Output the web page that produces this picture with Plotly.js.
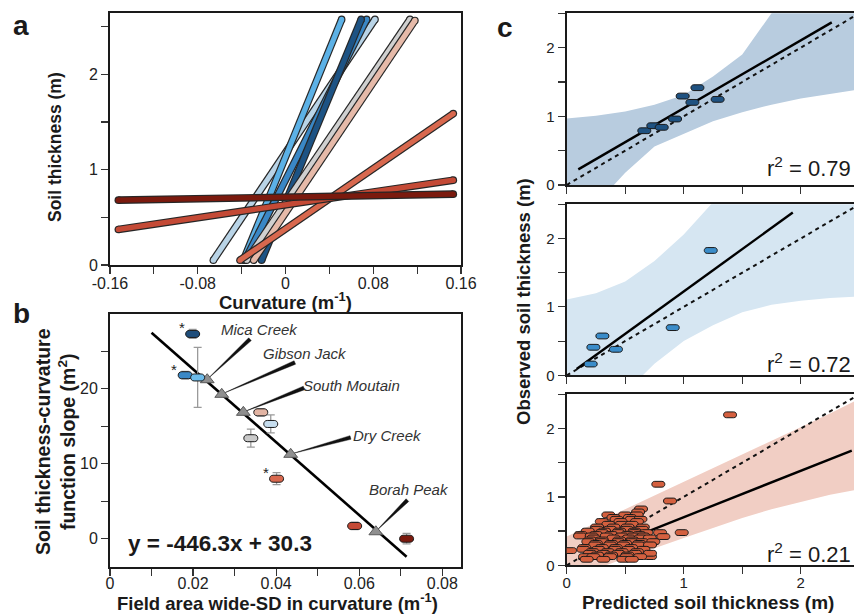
<!DOCTYPE html>
<html><head><meta charset="utf-8">
<script src="https://cdn.plot.ly/plotly-3.0.1.min.js"></script>
<style>html,body{margin:0;padding:0;background:#fff;}#chart{width:854px;height:614px;}</style>
</head><body><div id="chart"></div>
<script>
// ---------- Panel a: soil thickness vs curvature fits ----------
const aCurvStart = [-0.0658, -0.0384, -0.0370, -0.0218, -0.0354, -0.0290, -0.0415, -0.1524, -0.1524];
const aCurvEnd   = [ 0.0816,  0.0512,  0.0740,  0.0690,  0.1135,  0.1180,  0.1530,  0.1530,  0.1530];
const aThickStart = [0.05, 0.05, 0.05, 0.05, 0.05, 0.05, 0.05, 0.373, 0.68];
const aThickEnd   = [2.576, 2.576, 2.576, 2.576, 2.576, 2.565, 1.588, 0.89, 0.743];
const aColors = ['#b9d4e7', '#5cb1e6', '#3a87c5', '#1d5384', '#d0d0d0', '#e6baa9', '#d8684e', '#c44a36', '#7b1a0e'];
const aXTickVals = [-0.16, -0.12, -0.08, -0.04, 0, 0.04, 0.08, 0.12, 0.16];
const aXTickText = ['-0.16', '', '-0.08', '', '0', '', '0.08', '', '0.16'];
const aYTickVals = [0, 0.5, 1, 1.5, 2, 2.5];
const aYTickText = ['0', '', '1', '', '2', ''];

// ---------- Panel b: slope vs SD of curvature ----------
const bSD    = [0.0199, 0.0181, 0.0211, 0.0363, 0.0387, 0.0339, 0.0401, 0.0589, 0.0714];
const bSlope = [27.3, 21.8, 21.5, 16.85, 15.3, 13.4, 8.0, 1.7, 0.0];
const bErr   = [0.6, 0.5, 4.0, 0.5, 1.2, 1.2, 0.8, 0.5, 0.7];
const bStar  = [true, true, false, false, false, false, true, false, false];
const bColors = ['#1f4e7b', '#3a88c6', '#6cbbea', '#e2b4a3', '#c6ddee', '#c9c9c9', '#d8684e', '#c44a36', '#7b1a0e'];
const bFitX = [0.0100, 0.0714];
const bFitY = [27.47, -2.40];
const bSiteNames = ['Mica Creek', 'Gibson Jack', 'South Moutain', 'Dry Creek', 'Borah Peak'];
const bSiteSD    = [0.0234, 0.0269, 0.0321, 0.0435, 0.0640];
const bSiteSlope = [21.2, 19.25, 16.85, 11.25, 0.93];
const bLabelX  = [0.0361, 0.0469, 0.0582, 0.0667, 0.0720];
const bLabelY  = [27.9, 24.7, 20.4, 13.8, 6.6];
const bLeaderX = [0.0337, 0.0445, 0.0467, 0.0579, 0.0716];
const bLeaderY = [26.6, 23.5, 20.1, 13.5, 5.15];
const bXTickVals = [0, 0.01, 0.02, 0.03, 0.04, 0.05, 0.06, 0.07, 0.08];
const bXTickText = ['0', '', '0.02', '', '0.04', '', '0.06', '', '0.08'];
const bYTickVals = [0, 5, 10, 15, 20, 25];
const bYTickText = ['0', '', '10', '', '20', ''];

// ---------- Panel c: observed vs predicted ----------
const cTopPred = [0.663, 0.740, 0.812, 0.926, 0.991, 1.074, 1.117, 1.290];
const cTopObs  = [0.790, 0.863, 0.840, 0.961, 1.295, 1.203, 1.417, 1.247];
const cMidPred = [0.205, 0.228, 0.305, 0.421, 0.906, 1.231];
const cMidObs  = [0.165, 0.410, 0.575, 0.380, 0.697, 1.825];
const cBotPred = [
  1.396, 0.783, 0.883, 0.983, 0.798, 0.826, 0.712, 0.028, 0.635, 0.610,
  0.356, 0.499, 0.598,
  0.400, 0.540,
  0.427, 0.556, 0.630,
  0.300, 0.460, 0.600,
  0.356, 0.470, 0.556,
  0.260, 0.400, 0.520, 0.650,
  0.256, 0.370, 0.513, 0.641,
  0.180, 0.320, 0.450, 0.580,
  0.300, 0.440, 0.580, 0.680,
  0.120, 0.250, 0.380, 0.520, 0.620,
  0.114, 0.214, 0.342, 0.470, 0.570, 0.655,
  0.230, 0.400, 0.530, 0.630, 0.710,
  0.200, 0.300, 0.450, 0.560,
  0.185, 0.299, 0.440, 0.556, 0.641, 0.740,
  0.250, 0.380, 0.500, 0.620,
  0.242, 0.370, 0.484, 0.612, 0.712,
  0.150, 0.300, 0.420, 0.550,
  0.142, 0.270, 0.413, 0.527, 0.655,
  0.220, 0.350, 0.470, 0.600,
  0.199, 0.313, 0.440, 0.584, 0.712,
  0.260, 0.380, 0.520,
  0.157, 0.228, 0.370, 0.513, 0.627,
  0.171, 0.313, 0.484, 0.556];
const cBotObs = [
  2.200, 1.185, 0.940, 0.478, 0.478, 0.420, 0.127, 0.215, 0.824, 0.780,
  0.737, 0.737, 0.737,
  0.700, 0.700,
  0.673, 0.673, 0.673,
  0.640, 0.640, 0.640,
  0.600, 0.600, 0.600,
  0.560, 0.560, 0.560, 0.560,
  0.527, 0.527, 0.527, 0.527,
  0.500, 0.500, 0.500, 0.500,
  0.478, 0.478, 0.478, 0.478,
  0.450, 0.450, 0.450, 0.450, 0.450,
  0.429, 0.429, 0.429, 0.429, 0.429, 0.429,
  0.400, 0.400, 0.400, 0.400, 0.400,
  0.370, 0.370, 0.370, 0.370,
  0.346, 0.346, 0.346, 0.346, 0.346, 0.346,
  0.320, 0.320, 0.320, 0.320,
  0.298, 0.298, 0.298, 0.298, 0.298,
  0.260, 0.260, 0.260, 0.260,
  0.234, 0.234, 0.234, 0.234, 0.234,
  0.200, 0.200, 0.200, 0.200,
  0.176, 0.176, 0.176, 0.176, 0.176,
  0.150, 0.150, 0.150,
  0.127, 0.127, 0.127, 0.127, 0.127,
  0.088, 0.088, 0.088, 0.088];
const cBandX     = [0, 0.25, 0.5, 0.75, 1.0, 1.25, 1.5, 1.75, 2.0, 2.25, 2.46];
const cTopUpper  = [0.97, 1.01, 1.07, 1.17, 1.31, 1.58, 1.90, 2.50, 3.00, 3.40, 3.80];
const cTopLower  = [-0.75, -0.30, 0.18, 0.56, 0.75, 0.93, 1.06, 1.17, 1.26, 1.33, 1.38];
const cMidUpper  = [1.11, 1.20, 1.37, 1.67, 2.06, 2.55, 3.00, 3.45, 3.90, 4.35, 4.75];
const cMidLower  = [-1.10, -0.70, -0.25, 0.17, 0.50, 0.73, 0.92, 1.03, 1.09, 1.13, 1.15];
const cBotUpper  = [0.42, 0.62, 0.82, 1.02, 1.22, 1.42, 1.62, 1.82, 2.02, 2.22, 2.40];
const cBotLower  = [-0.20, -0.06, 0.10, 0.25, 0.40, 0.55, 0.69, 0.82, 0.93, 1.03, 1.10];
const cTopFitX = [0.099, 2.265], cTopFitY = [0.228, 2.368];
const cMidFitX = [0.085, 1.932], cMidFitY = [0.092, 2.380];
const cBotFitX = [0.100, 2.436], cBotFitY = [0.092, 1.678];
const cOneToOne = [0, 2.46];
const cR2 = ['0.79', '0.72', '0.21'];
const cTickVals = [0, 0.5, 1, 1.5, 2, 2.5];
const cTickText = ['0', '', '1', '', '2', ''];

// ---------- layout geometry ----------
const W = 854, H = 614;
const FONT = 'Arial, "Liberation Sans", Helvetica, sans-serif';
const domAX = [110 / W, 461 / W];
const domAY = [1 - 265 / H, 1 - 13.3 / H];
const domBY = [1 - 566.7 / H, 1 - 314 / H];
const domCX = [566.7 / W, 1];
const domC1Y = [1 - 185 / H, 1 - 13.3 / H];
const domC2Y = [1 - 375.3 / H, 1 - 204.3 / H];
const domC3Y = [1 - 565.3 / H, 1 - 394.3 / H];
const rangeAX = [-0.16, 0.16], rangeAY = [0, 2.64];
const rangeBX = [0, 0.0845], rangeBY = [-3.73, 29.96];
const rangeCX = [0, 2.455], rangeCY = [0, 2.5];

const traces = [];
const shapes = [];
const annotations = [];

// Panel a lines with outline and rounded caps
for (let i = 0; i < aColors.length; i++) {
  const xs = [aCurvStart[i], aCurvEnd[i]], ys = [aThickStart[i], aThickEnd[i]];
  traces.push({x: xs, y: ys, xaxis: 'x', yaxis: 'y', mode: 'lines+markers', hoverinfo: 'skip',
    line: {color: '#262626', width: 7.6}, marker: {color: '#262626', size: 7.6, line: {width: 0}}, cliponaxis: false});
  traces.push({x: xs, y: ys, xaxis: 'x', yaxis: 'y', mode: 'lines+markers', hoverinfo: 'skip',
    line: {color: aColors[i], width: 5.2}, marker: {color: aColors[i], size: 5.2, line: {width: 0}}, cliponaxis: false});
}

// pill helper
function pill(xref, yref, x, y, color, w, h) {
  const r = h / 2, hw = w / 2 - r, k = r * 1.333;
  const p = `M ${-hw},${-r} L ${hw},${-r} C ${hw + k},${-r} ${hw + k},${r} ${hw},${r} L ${-hw},${r} C ${-hw - k},${r} ${-hw - k},${-r} ${-hw},${-r} Z`;
  return {type: 'path', xref, yref, xsizemode: 'pixel', ysizemode: 'pixel', xanchor: x, yanchor: y,
    path: p, fillcolor: color, line: {color: '#1a1a1a', width: 1}, layer: 'above'};
}

// Panel b
traces.push({x: bFitX, y: bFitY, xaxis: 'x2', yaxis: 'y2', mode: 'lines', hoverinfo: 'skip',
  line: {color: '#000', width: 2.6}});
// leader wedges
const bPxX = (domAX[1] - domAX[0]) * W / (rangeBX[1] - rangeBX[0]);
const bPxY = (domBY[1] - domBY[0]) * H / (rangeBY[1] - rangeBY[0]);
for (let i = 0; i < bSiteNames.length; i++) {
  const lx = bLeaderX[i] * bPxX, ly = bLeaderY[i] * bPxY;
  const tx = bSiteSD[i] * bPxX, ty = bSiteSlope[i] * bPxY;
  const dx = tx - lx, dy = ty - ly, len = Math.hypot(dx, dy);
  const nx = -dy / len, ny = dx / len;
  const w1 = 1.9, w2 = 0.25;
  const pts = [[lx + nx * w1, ly + ny * w1], [tx + nx * w2, ty + ny * w2], [tx - nx * w2, ty - ny * w2], [lx - nx * w1, ly - ny * w1], [lx + nx * w1, ly + ny * w1]];
  traces.push({x: pts.map(p => p[0] / bPxX), y: pts.map(p => p[1] / bPxY), xaxis: 'x2', yaxis: 'y2',
    mode: 'lines', fill: 'toself', fillcolor: '#111', line: {color: '#111', width: 0.4}, hoverinfo: 'skip'});
  annotations.push({xref: 'x2', yref: 'y2', x: bLabelX[i], y: bLabelY[i], text: '<i>' + bSiteNames[i] + '</i>',
    showarrow: false, font: {family: FONT, size: 15, color: '#333'}, xanchor: 'center', yanchor: 'middle'});
}
traces.push({x: bSiteSD, y: bSiteSlope, xaxis: 'x2', yaxis: 'y2', mode: 'markers', hoverinfo: 'skip',
  marker: {symbol: 'triangle-up', size: 12, color: '#8f8f8f', line: {color: '#5a5a5a', width: 1}}});
traces.push({x: bSD, y: bSlope, xaxis: 'x2', yaxis: 'y2', mode: 'markers', hoverinfo: 'skip',
  marker: {size: 1, color: 'rgba(0,0,0,0)'},
  error_y: {type: 'data', array: bErr, visible: true, color: '#9a9a9a', thickness: 1.3, width: 4}});
for (let i = 0; i < bSD.length; i++) {
  shapes.push(pill('x2', 'y2', bSD[i], bSlope[i], bColors[i], 14, 7));
  if (bStar[i]) annotations.push({xref: 'x2', yref: 'y2', x: bSD[i], y: bSlope[i], text: '*', showarrow: false,
    xshift: -11, yshift: 6, font: {family: FONT, size: 15, color: '#222'}});
}

// Panel c
const cPanels = [
  {xa: 'x3', ya: 'y3', up: cTopUpper, lo: cTopLower, band: '#b8ccdf', fx: cTopFitX, fy: cTopFitY, px: cTopPred, py: cTopObs, col: '#1f5281'},
  {xa: 'x4', ya: 'y4', up: cMidUpper, lo: cMidLower, band: '#d6e6f2', fx: cMidFitX, fy: cMidFitY, px: cMidPred, py: cMidObs, col: '#3a8cc9'},
  {xa: 'x5', ya: 'y5', up: cBotUpper, lo: cBotLower, band: '#f1cec4', fx: cBotFitX, fy: cBotFitY, px: cBotPred, py: cBotObs, col: '#d4603f'}
];
cPanels.forEach(p => {
  traces.push({x: cBandX.concat(cBandX.slice().reverse()), y: p.up.concat(p.lo.slice().reverse()),
    xaxis: p.xa, yaxis: p.ya, mode: 'lines', fill: 'toself', fillcolor: p.band, line: {width: 0}, hoverinfo: 'skip'});
  traces.push({x: cOneToOne, y: cOneToOne, xaxis: p.xa, yaxis: p.ya, mode: 'lines', hoverinfo: 'skip',
    line: {color: '#111', width: 2, dash: '4px,4px'}});
  traces.push({x: p.fx, y: p.fy, xaxis: p.xa, yaxis: p.ya, mode: 'lines', hoverinfo: 'skip',
    line: {color: '#000', width: 2.4}});
  for (let i = 0; i < p.px.length; i++) shapes.push(pill(p.xa, p.ya, p.px[i], p.py[i], p.col, 13, 5.8));
});

// axes
function ax(extra) {
  return Object.assign({showline: true, linecolor: '#1a1a1a', linewidth: 2, ticks: 'outside', ticklen: 7,
    tickwidth: 1.2, tickcolor: '#333', showgrid: false, zeroline: false, fixedrange: true,
    tickfont: {family: FONT, size: 16, color: '#222'}}, extra);
}
const XSTAND = -4;
const layout = {
  width: W, height: H, margin: {l: 0, r: 0, t: 0, b: 0}, paper_bgcolor: '#fff', plot_bgcolor: '#fff',
  showlegend: false, font: {family: FONT},
  xaxis: ax({domain: domAX, range: rangeAX, anchor: 'y', mirror: true, tickmode: 'array', tickvals: aXTickVals, ticktext: aXTickText, ticklabelstandoff: XSTAND}),
  yaxis: ax({domain: domAY, range: rangeAY, anchor: 'x', mirror: true, tickmode: 'array', tickvals: aYTickVals, ticktext: aYTickText}),
  xaxis2: ax({domain: domAX, range: rangeBX, anchor: 'y2', mirror: true, tickmode: 'array', tickvals: bXTickVals, ticktext: bXTickText, ticklabelstandoff: -6}),
  yaxis2: ax({domain: domBY, range: rangeBY, anchor: 'x2', mirror: true, tickmode: 'array', tickvals: bYTickVals, ticktext: bYTickText}),
  xaxis3: ax({domain: domCX, range: rangeCX, anchor: 'y3', mirror: true, tickmode: 'array', tickvals: cTickVals, ticktext: cTickText, showticklabels: false}),
  yaxis3: ax({domain: domC1Y, range: rangeCY, anchor: 'x3', tickmode: 'array', tickvals: cTickVals, ticktext: cTickText, tickfont: {family: FONT, size: 15, color: '#222'}}),
  xaxis4: ax({domain: domCX, range: rangeCX, anchor: 'y4', mirror: true, tickmode: 'array', tickvals: cTickVals, ticktext: cTickText, showticklabels: false}),
  yaxis4: ax({domain: domC2Y, range: rangeCY, anchor: 'x4', tickmode: 'array', tickvals: cTickVals, ticktext: cTickText, tickfont: {family: FONT, size: 15, color: '#222'}}),
  xaxis5: ax({domain: domCX, range: rangeCX, anchor: 'y5', mirror: true, tickmode: 'array', tickvals: cTickVals, ticktext: cTickText, ticklabelstandoff: XSTAND, tickfont: {family: FONT, size: 15, color: '#222'}}),
  yaxis5: ax({domain: domC3Y, range: rangeCY, anchor: 'x5', tickmode: 'array', tickvals: cTickVals, ticktext: cTickText, tickfont: {family: FONT, size: 15, color: '#222'}}),
  shapes: shapes,
  annotations: annotations
};

function pa(text, px, py, size, opts) {
  return Object.assign({xref: 'paper', yref: 'paper', x: px / W, y: 1 - py / H, text: text, showarrow: false,
    xanchor: 'center', yanchor: 'middle', font: {family: FONT, size: size, color: '#1a1a1a'}}, opts || {});
}
annotations.push(pa('<b>a</b>', 20.5, 25, 28));
annotations.push(pa('<b>b</b>', 21, 313, 28));
annotations.push(pa('<b>c</b>', 505, 27, 28));
annotations.push(pa('<b>Soil thickness (m)</b>', 55, 147, 17.5, {textangle: -90}));
annotations.push(pa('<b>Curvature (m<sup>-1</sup>)</b>', 285, 300.5, 18.5));
annotations.push(pa('<b>Soil thickness-curvature<br>function slope (m<sup>2</sup>)</b>', 55, 442, 19.5, {textangle: -90}));
annotations.push(pa('<b>Field area wide-SD in curvature (m<sup>-1</sup>)</b>', 277, 602, 18.5));
annotations.push(pa('<b>y = -446.3x + 30.3</b>', 220, 543, 22.5));
annotations.push(pa('<b>Observed soil thickness (m)</b>', 523, 302, 18.5, {textangle: -90}));
annotations.push(pa('<b>Predicted soil thickness (m)</b>', 708, 602, 19));
const r2Y = [167, 363, 553];
cR2.forEach((v, i) => annotations.push(pa('r<sup>2</sup> = ' + v, 853, r2Y[i], 22, {xanchor: 'right'})));

Plotly.newPlot('chart', traces, layout, {staticPlot: true, displayModeBar: false});
</script></body></html>
